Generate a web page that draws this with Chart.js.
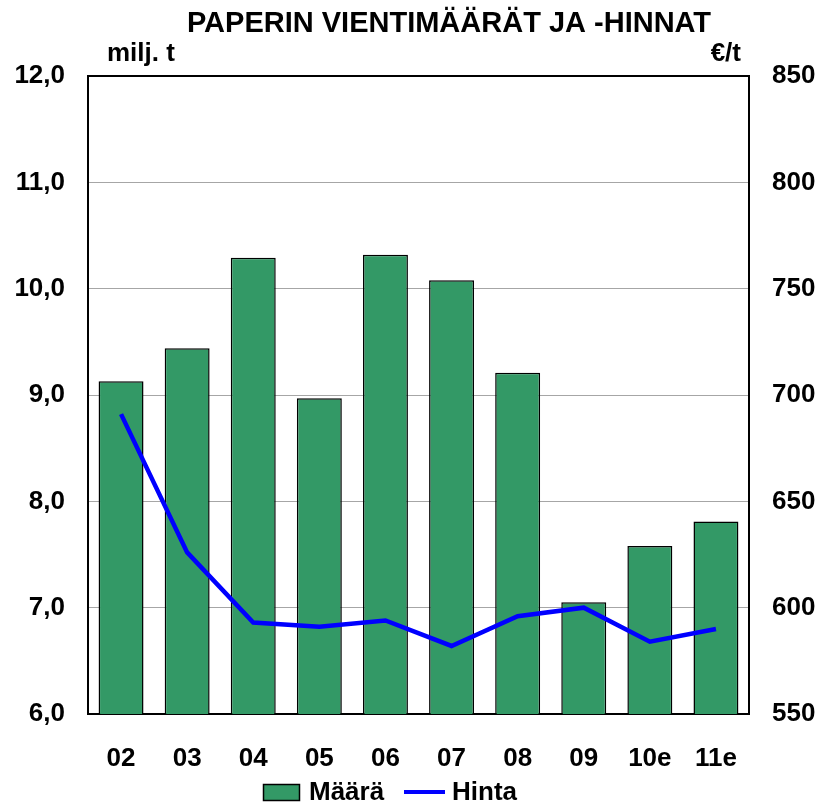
<!DOCTYPE html>
<html>
<head>
<meta charset="utf-8">
<script src="https://cdn.jsdelivr.net/npm/chart.js@4"></script>
<style>
  body { margin: 0; background: #fff; }
  #wrap { width: 822px; height: 807px; }
</style>
</head>
<body>
<div id="wrap"><canvas id="chart" width="822" height="807"></canvas></div>
<script>
const vuodet = ["02", "03", "04", "05", "06", "07", "08", "09", "10e", "11e"];
const maara = [9.13, 9.44, 10.29, 8.97, 10.32, 10.08, 9.21, 7.05, 7.58, 7.81];
const hinta = [691, 626, 593, 591, 594, 582, 596, 600, 584, 590];
const otsikko = "PAPERIN VIENTIMÄÄRÄT JA -HINNAT";
const yksikkoVasen = "milj. t";
const yksikkoOikea = "€/t";

const fontti = "'Liberation Sans', Arial, sans-serif";
const koko = 26;

// otsikko, yksiköt ja selite piirretään itse
const tekstit = {
    id: "tekstit",
    afterDraw(chart) {
        const ctx = chart.ctx;
        const [viiva, pylvas] = chart.data.datasets;
        ctx.save();
        ctx.fillStyle = "#000";
        ctx.textBaseline = "alphabetic";
        ctx.font = "bold 29px " + fontti;
        ctx.textAlign = "center";
        ctx.fillText(otsikko, 449, 32);
        ctx.font = "bold " + koko + "px " + fontti;
        ctx.textAlign = "left";
        ctx.fillText(yksikkoVasen, 107, 61);
        ctx.textAlign = "right";
        ctx.fillText(yksikkoOikea, 741, 61);

        // selite
        const y = 792;
        ctx.fillStyle = pylvas.backgroundColor;
        ctx.fillRect(263, y - 8, 37, 17);
        ctx.strokeStyle = "#000";
        ctx.lineWidth = 1.5;
        ctx.strokeRect(263.5, y - 7.5, 36, 16);
        ctx.strokeStyle = viiva.borderColor;
        ctx.lineWidth = 4;
        ctx.beginPath();
        ctx.moveTo(404, y);
        ctx.lineTo(445, y);
        ctx.stroke();
        ctx.fillStyle = "#000";
        ctx.textAlign = "left";
        ctx.textBaseline = "middle";
        ctx.fillText(pylvas.label, 309, y + 1);
        ctx.fillText(viiva.label, 452, y + 1);
        ctx.restore();
    }
};

const reuna = (c) => c.tick && (c.tick.value === 6 || c.tick.value === 12);

const config = {
    data: {
        labels: vuodet,
        datasets: [
            {
                type: "line",
                label: "Hinta",
                data: hinta,
                yAxisID: "y2",
                borderColor: "#0000ff",
                backgroundColor: "#0000ff",
                borderWidth: 4.5,
                pointRadius: 0,
                tension: 0,
                order: 0
            },
            {
                type: "bar",
                label: "Määrä",
                data: maara,
                yAxisID: "y",
                backgroundColor: "#339966",
                borderColor: "#000",
                borderWidth: 1.5,
                barPercentage: 0.68,
                categoryPercentage: 1,
                order: 1
            }
        ]
    },
    options: {
        responsive: false,
        animation: false,
        layout: { padding: { top: 76, left: 0, right: 0, bottom: 30 } },
        plugins: {
            title: { display: false },
            tooltip: { enabled: false },
            legend: { display: false }
        },
        scales: {
            x: {
                grid: { display: false },
                border: { color: "#000", width: 2 },
                ticks: {
                    color: "#000",
                    padding: 21,
                    font: { family: fontti, size: koko, weight: "bold" }
                },
                afterFit(scale) { scale.height = 63; }
            },
            y: {
                position: "left",
                min: 6,
                max: 12,
                ticks: {
                    stepSize: 1,
                    color: "#000",
                    padding: 23,
                    font: { family: fontti, size: koko, weight: "bold" },
                    callback: (v) => v.toFixed(1).replace(".", ",")
                },
                grid: {
                    drawTicks: false,
                    color: (c) => reuna(c) ? "#000" : "#a6a6a6",
                    lineWidth: (c) => reuna(c) ? 2 : 1
                },
                border: { color: "#000", width: 2 },
                afterFit(scale) { scale.width = 88; }
            },
            y2: {
                position: "right",
                min: 550,
                max: 850,
                ticks: {
                    stepSize: 50,
                    color: "#000",
                    padding: 23,
                    font: { family: fontti, size: koko, weight: "bold" }
                },
                grid: { display: false, drawTicks: false },
                border: { color: "#000", width: 2 },
                afterFit(scale) { scale.width = 73; }
            }
        }
    },
    plugins: [tekstit]
};

new Chart(document.getElementById("chart"), config);
</script>
</body>
</html>
